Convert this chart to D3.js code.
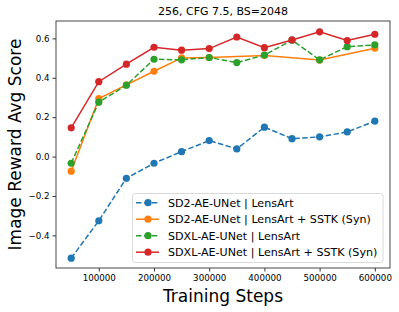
<!DOCTYPE html>
<html>
<head>
<meta charset="utf-8">
<script src="https://cdn.jsdelivr.net/npm/d3@7"></script>
<style>
  body { margin: 0; background: #fff; }
  text { font-family: "DejaVu Sans", sans-serif; fill: #000; }
</style>
</head>
<body>
<script>
// data
let steps = [50000, 100000, 150000, 200000, 250000, 300000, 350000, 400000, 450000, 500000, 550000, 600000];
let stepsOrange = [50000, 100000, 150000, 200000, 250000, 300000, 400000, 500000, 600000];
let sd2Lens = [-0.516, -0.326, -0.11, -0.034, 0.025, 0.081, 0.039, 0.149, 0.091, 0.10, 0.125, 0.18];
let sd2LensSstk = [-0.074, 0.294, 0.364, 0.433, 0.501, 0.503, 0.513, 0.49, 0.55];
let sdxlLens = [-0.034, 0.276, 0.362, 0.494, 0.491, 0.503, 0.477, 0.515, 0.591, 0.491, 0.558, 0.567];
let sdxlLensSstk = [0.146, 0.38, 0.469, 0.555, 0.54, 0.548, 0.607, 0.553, 0.592, 0.633, 0.589, 0.621];
let xTicks = [100000, 200000, 300000, 400000, 500000, 600000];
let yTicks = [-0.4, -0.2, 0.0, 0.2, 0.4, 0.6];

let series = [
  { name: 'SD2-AE-UNet | LensArt', x: steps, y: sd2Lens, color: '#1f77b4', dash: '5.5,2.4' },
  { name: 'SD2-AE-UNet | LensArt + SSTK (Syn)', x: stepsOrange, y: sd2LensSstk, color: '#ff7f0e', dash: null },
  { name: 'SDXL-AE-UNet | LensArt', x: steps, y: sdxlLens, color: '#2ca02c', dash: '5.5,2.4' },
  { name: 'SDXL-AE-UNet | LensArt + SSTK (Syn)', x: steps, y: sdxlLensSstk, color: '#d62728', dash: null }
];

let width = 399, height = 312;
let plotLeft = 56, plotRight = 390, plotTop = 21, plotBottom = 268;

let svg = d3.select('body').append('svg')
  .attr('width', width)
  .attr('height', height);

let xScale = d3.scaleLinear().domain([22500, 627500]).range([plotLeft, plotRight]);
let yScale = d3.scaleLinear().domain([-0.5657, 0.6882]).range([plotBottom, plotTop]);

// axes
let xAxis = d3.axisBottom(xScale).tickValues(xTicks).tickFormat(d3.format('d')).tickSize(3.5).tickPadding(3);
let yAxis = d3.axisLeft(yScale).tickValues(yTicks).tickFormat(d => d3.format('.1f')(d).replace('-', '\u2212')).tickSize(3.5).tickPadding(3);

let gx = svg.append('g').attr('transform', 'translate(0,' + plotBottom + ')').call(xAxis);
let gy = svg.append('g').attr('transform', 'translate(' + plotLeft + ',0)').call(yAxis);
[gx, gy].forEach(g => {
  g.select('.domain').remove();
  g.selectAll('text').style('font-size', '8.7px').style('font-family', '"DejaVu Sans", sans-serif');
  g.selectAll('line').attr('stroke', '#000').attr('stroke-width', 0.8);
});

// frame
svg.append('rect')
  .attr('x', plotLeft).attr('y', plotTop)
  .attr('width', plotRight - plotLeft).attr('height', plotBottom - plotTop)
  .attr('fill', 'none').attr('stroke', '#333').attr('stroke-width', 0.9);

// lines + dots
let line = d3.line().x(d => xScale(d[0])).y(d => yScale(d[1]));
series.forEach(s => {
  let pts = s.x.map((v, i) => [v, s.y[i]]);
  svg.append('path')
    .datum(pts)
    .attr('d', line)
    .attr('fill', 'none')
    .attr('stroke', s.color)
    .attr('stroke-width', 1.5)
    .attr('stroke-dasharray', s.dash);
  svg.selectAll(null)
    .data(pts)
    .enter()
    .append('circle')
    .attr('cx', d => xScale(d[0]))
    .attr('cy', d => yScale(d[1]))
    .attr('r', 3.6)
    .attr('fill', s.color);
});

// title and axis labels
svg.append('text').attr('x', (plotLeft + plotRight) / 2).attr('y', 15)
  .attr('text-anchor', 'middle').style('font-size', '11px')
  .text('256, CFG 7.5, BS=2048');
svg.append('text').attr('x', (plotLeft + plotRight) / 2).attr('y', 302)
  .attr('text-anchor', 'middle').style('font-size', '17px')
  .text('Training Steps');
svg.append('text')
  .attr('transform', 'translate(20.5,' + ((plotTop + plotBottom) / 2) + ') rotate(-90)')
  .attr('text-anchor', 'middle').style('font-size', '17px')
  .text('Image Reward Avg Score');

// legend
let lg = svg.append('g').attr('transform', 'translate(132.5,193.5)');
lg.append('rect')
  .attr('width', 250.5).attr('height', 69).attr('rx', 2.5)
  .attr('fill', '#fff').attr('fill-opacity', 0.8)
  .attr('stroke', '#d0d0d0').attr('stroke-width', 0.8);
series.forEach((s, i) => {
  let yy = 9.2 + i * 16.5;
  lg.append('line')
    .attr('x1', 3.5).attr('x2', 26.5).attr('y1', yy).attr('y2', yy)
    .attr('stroke', s.color).attr('stroke-width', 1.5)
    .attr('stroke-dasharray', s.dash);
  lg.append('circle').attr('cx', 15.5).attr('cy', yy).attr('r', 3.6).attr('fill', s.color);
  lg.append('text').attr('x', 35.5).attr('y', yy + 4)
    .style('font-size', '11.1px').text(s.name);
});
</script>
</body>
</html>
